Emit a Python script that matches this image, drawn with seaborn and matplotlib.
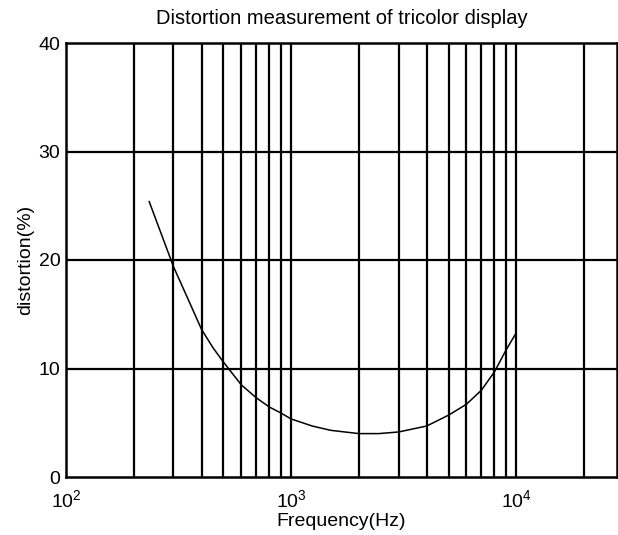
import matplotlib
matplotlib.use("Agg")
import matplotlib.pyplot as plt
import seaborn as sns
import pandas as pd
import numpy as np

# Data
freq_hz = [234, 300, 350, 400, 450, 500, 600, 700, 800, 900, 1000, 1240, 1500, 2000,
           2450, 3000, 4000, 5000, 6000, 7000, 8000, 9000, 10000]
distortion_pct = [25.4, 19.4, 16.3, 13.6, 11.9, 10.6, 8.5, 7.3, 6.45, 5.9, 5.35, 4.7, 4.3, 4.0,
                  4.0, 4.15, 4.7, 5.7, 6.7, 8.0, 9.7, 11.7, 13.3]
x_grid = [200, 300, 400, 500, 600, 700, 800, 900, 1000,
          2000, 3000, 4000, 5000, 6000, 7000, 8000, 9000, 10000, 20000]
y_ticks = [0, 10, 20, 30, 40]
x_ticks = [100, 1000, 10000]
x_tick_labels = [r"$\mathregular{10^2}$", r"$\mathregular{10^3}$", r"$\mathregular{10^4}$"]

sns.set_theme(style="white")
plt.rcParams['font.family'] = ['Liberation Sans', 'DejaVu Sans']
plt.rcParams['mathtext.fontset'] = 'custom'
plt.rcParams['mathtext.rm'] = 'Liberation Sans'

df = pd.DataFrame({"freq": freq_hz, "dist": distortion_pct})

fig = plt.figure(figsize=(6.18, 5.35), dpi=100)
ax = fig.add_axes([66/618, 1 - 477/535, (617 - 66)/618, (477 - 43)/535])

ax.set_xscale("log")
ax.set_xlim(100, 28000)
ax.set_ylim(0, 40)

for xv in x_grid:
    ax.axvline(xv, color="black", lw=1.6, zorder=1)
for yv in y_ticks[1:-1]:
    ax.axhline(yv, color="black", lw=1.6, zorder=1)

sns.lineplot(data=df, x="freq", y="dist", ax=ax, color="black", lw=1.1, zorder=3)

ax.set_xticks(x_ticks)
ax.set_xticklabels(x_tick_labels)
ax.xaxis.set_minor_locator(matplotlib.ticker.NullLocator())
ax.set_yticks(y_ticks)
ax.set_yticklabels([str(v) for v in y_ticks])
ax.tick_params(axis="both", length=0, labelsize=14, colors="black")
ax.tick_params(axis="x", pad=9)
ax.tick_params(axis="y", pad=4)

for s in ax.spines.values():
    s.set_visible(True)
    s.set_color("black")
    s.set_linewidth(1.8)

ax.set_xlabel("Frequency(Hz)", fontsize=14, color="black", labelpad=1)
ax.set_ylabel("distortion(%)", fontsize=14, color="black", labelpad=3)
ax.set_title("Distortion measurement of tricolor display", fontsize=14.5, color="black", pad=14)

fig.savefig("out.png", dpi=100, facecolor="white")
